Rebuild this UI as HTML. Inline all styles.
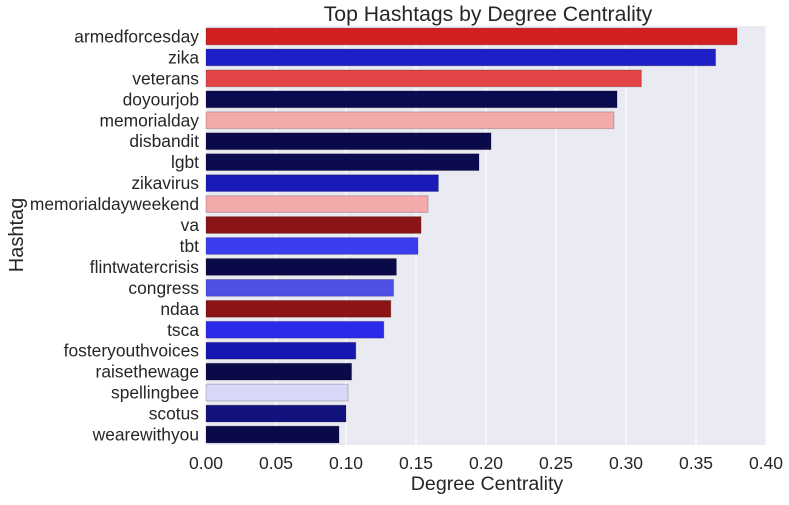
<!DOCTYPE html>
<html><head><meta charset="utf-8"><style>
body{margin:0;background:#fff;}
svg text{font-family:"Liberation Sans",Arial,sans-serif;fill:#262626;}
</style></head><body>
<svg id="chart" width="789" height="500" xmlns="http://www.w3.org/2000/svg">
<rect x="206" y="26" width="560" height="419" fill="#eaeaf2"/>
<g id="grid"></g><g id="bars"></g><g id="yticks"></g><g id="xticks"></g>
<text x="488" y="21" font-size="21.2" text-anchor="middle">Top Hashtags by Degree Centrality</text>
<text x="487" y="490" font-size="19.6" text-anchor="middle">Degree Centrality</text>
<text x="0" y="0" font-size="20" text-anchor="middle" transform="translate(23,235) rotate(-90)">Hashtag</text>
</svg>
<script>
const categories=["armedforcesday","zika","veterans","doyourjob","memorialday","disbandit","lgbt","zikavirus","memorialdayweekend","va","tbt","flintwatercrisis","congress","ndaa","tsca","fosteryouthvoices","raisethewage","spellingbee","scotus","wearewithyou"];
const values=[0.3793,0.364,0.311,0.2936,0.2914,0.2036,0.195,0.166,0.1586,0.1536,0.1514,0.136,0.134,0.132,0.127,0.107,0.104,0.1014,0.1,0.095];
const colors=["#d21f1f","#1f1fc8","#e34446","#0a0a4f","#f4a9aa","#0a0a4a","#0c0a50","#1a1ab8","#f4a9aa","#8b1414","#3c3cf0","#0a0a48","#5050e6","#8b1414","#2a2ae8","#1616b0","#0a0a48","#d8d8f8","#12127e","#0a0a48"];
const xTicks=[0,0.05,0.1,0.15,0.2,0.25,0.3,0.35,0.4];
const X0=206,X1=766,Y0=26,Y1=445;
const xs=v=>X0+(v-0)/(0.4-0)*(X1-X0);
const band=(Y1-Y0)/categories.length;
const ys=i=>Y0+i*band;
const NS="http://www.w3.org/2000/svg";
function mk(t,a,p){const e=document.createElementNS(NS,t);for(const k in a)e.setAttribute(k,a[k]);p.appendChild(e);return e;}
const g=document.getElementById('grid'),b=document.getElementById('bars'),yt=document.getElementById('yticks'),xt=document.getElementById('xticks');
xTicks.forEach(t=>{
 const l=mk('line',{x1:xs(t),x2:xs(t),y1:Y0,y2:Y1,stroke:'#fff','stroke-width':1.2},g);
 
 
 const tx=mk('text',{x:xs(t),y:469,'font-size':17.5,'text-anchor':'middle'},xt);
 tx.textContent=t.toFixed(2);
 
 
});
categories.forEach((c,i)=>{
 const r=mk('rect',{x:X0,y:ys(i)+band*0.1,width:xs(values[i])-X0,height:band*0.8,fill:colors[i],stroke:'rgba(0,0,0,0.2)','stroke-width':1},b);
 
 
 const tx=mk('text',{x:199,y:ys(i)+band/2+6,'font-size':17.4,'text-anchor':'end'},yt);
 tx.textContent=c;
 
 
});
</script>
</body></html>
